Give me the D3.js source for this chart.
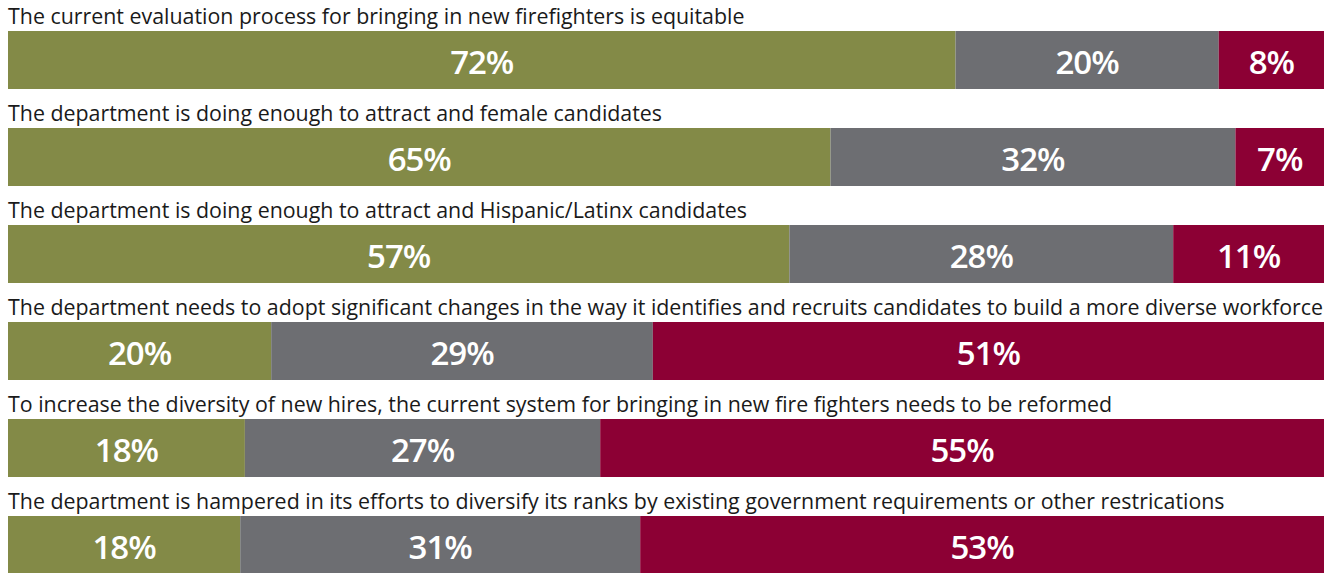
<!DOCTYPE html>
<html>
<head>
<meta charset="utf-8">
<script src="https://cdn.jsdelivr.net/npm/d3@7"></script>
<style>
  html, body { margin: 0; padding: 0; background: #ffffff; }
  svg { display: block; }
</style>
</head>
<body>
<svg id="chart" width="1334" height="573"></svg>
<script>
// Survey statements, one stacked bar per statement
const statements = [
  "The current evaluation process for bringing in new firefighters is equitable",
  "The department is doing enough to attract and female candidates",
  "The department is doing enough to attract and Hispanic/Latinx candidates",
  "The department needs to adopt significant changes in the way it identifies and recruits candidates to build a more diverse workforce",
  "To increase the diversity of new hires, the current system for bringing in new fire fighters needs to be reformed",
  "The department is hampered in its efforts to diversify its ranks by existing government requirements or other restrications"
];

// Response shares (%) per statement
const agree    = [72, 65, 57, 20, 18, 18];
const neutral  = [20, 32, 28, 29, 27, 31];
const disagree = [8, 7, 11, 51, 55, 53];

const seriesKeys = ["agree", "neutral", "disagree"];
const seriesColors = ["#838a47", "#6d6e72", "#8c0034"];

const rows = statements.map((s, i) => ({
  statement: s,
  agree: agree[i],
  neutral: neutral[i],
  disagree: disagree[i]
}));

const left = 8, right = 1324;
const firstBarTop = 31, rowStep = 97, barH = 58;

const svg = d3.select("#chart");

// Each bar fills the full width; segments share the row total
const stacked = d3.stack().keys(seriesKeys).offset(d3.stackOffsetExpand)(rows);

const x = d3.scaleLinear().domain([0, 1]).range([left, right]);
const y = d3.scaleLinear().domain([0, 1]).range([firstBarTop, firstBarTop + rowStep]);
const color = d3.scaleOrdinal().domain(seriesKeys).range(seriesColors);

const titleFont = "'Open Sans', 'Noto Sans', sans-serif";
const labelFont = "'Open Sans', 'Noto Sans', sans-serif";

// Statement titles
const titles = svg.append("g")
  .selectAll("text")
  .data(rows)
  .join("text")
  .attr("x", left)
  .attr("y", (d, i) => y(i) - 7)
  .attr("font-family", titleFont)
  .attr("font-size", 19)
  .attr("fill", "#1a1a1a")
  .text(d => d.statement);

// Fit the longest statement to the bar width
let maxW = 0;
titles.each(function () { maxW = Math.max(maxW, this.getComputedTextLength()); });
titles.attr("font-size", 19 * (right - left) / maxW);

// Segments
const layer = svg.append("g")
  .selectAll("g")
  .data(stacked)
  .join("g")
  .attr("fill", d => color(d.key));

layer.selectAll("rect")
  .data(d => d.map((seg, i) => ({ seg, i, key: d.key })))
  .join("rect")
  .attr("x", d => x(d.seg[0]))
  .attr("y", d => y(d.i))
  .attr("width", d => x(d.seg[1]) - x(d.seg[0]))
  .attr("height", barH);

// Value labels centred in each segment
layer.selectAll("text")
  .data(d => d.map((seg, i) => ({ seg, i, key: d.key, value: rows[i][d.key] })))
  .join("text")
  .attr("x", d => (x(d.seg[0]) + x(d.seg[1])) / 2)
  .attr("y", d => y(d.i) + barH / 2 + 1)
  .attr("text-anchor", "middle")
  .attr("dominant-baseline", "central")
  .attr("font-family", labelFont)
  .attr("font-weight", 600)
  .attr("font-size", 33)
  .attr("letter-spacing", -1)
  .attr("fill", "#ffffff")
  .text(d => d.value + "%");
</script>
</body>
</html>
